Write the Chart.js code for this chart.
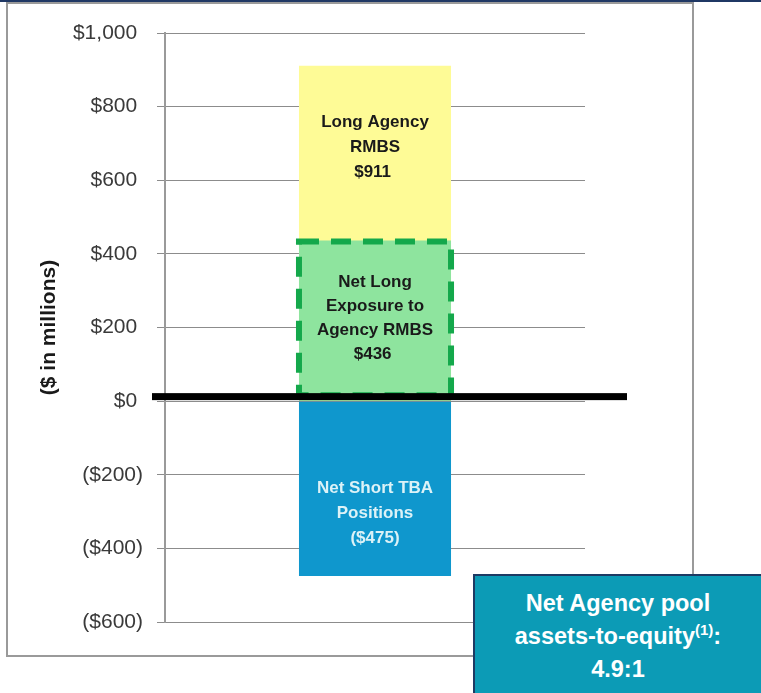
<!DOCTYPE html>
<html>
<head>
<meta charset="utf-8">
<script src="https://cdn.jsdelivr.net/npm/chart.js@4/dist/chart.umd.min.js"></script>
<style>
  body { margin: 0; background: #fff; }
  #wrap { position: relative; width: 761px; height: 693px; overflow: hidden; }
  #topLine { position: absolute; left: 0; top: 0; width: 761px; height: 2px; background: #1f3864; }
  #frame { position: absolute; left: 6px; top: 2px; width: 684px; height: 651px; border: 2px solid #9a9a9a; }
  #chartBox { position: absolute; left: 0; top: 0; width: 761px; height: 693px; }
  #ratioBox {
    position: absolute; left: 473px; top: 574px; width: 286px; height: 117px;
    background: #0c9bb6; border-top: 2px solid #1d3a63; border-left: 2px solid #1d3a63;
    color: #fff; font: bold 23.5px "Liberation Sans", Arial, sans-serif;
    text-align: center; line-height: 33px; padding-top: 11px; box-sizing: content-box;
  }
  #ratioBox sup { font-size: 15px; line-height: 0; vertical-align: 9px; }
</style>
</head>
<body>
<div id="wrap">
  <div id="topLine"></div>
  <div id="frame"></div>
  <div id="chartBox"><canvas id="exposureChart" width="761" height="693"></canvas></div>
  <div id="ratioBox">Net Agency pool<br>assets-to-equity<sup>(1)</sup>:<br>4.9:1</div>
</div>
<script>
// values in $ millions
const categories = ['Agency RMBS'];
const longAgencyRmbs = [911];
const netLongExposure = [436];
const netShortTba = [-475];
const yTickMin = -600;
const yTickMax = 1000;
const yTickStep = 200;

const money = function (v) {
    const s = Math.abs(v).toString().replace(/\B(?=(\d{3})+(?!\d))/g, ',');
    return v < 0 ? '($' + s + ')' : '$' + s + ' ';
};

// label text + small pixel nudge for each bar
const barLabels = [
    { ds: 0, lines: ['Long Agency', 'RMBS', money(longAgencyRmbs[0])], color: '#1a1a1a', lh: 25, nudge: -6 },
    { ds: 1, lines: ['Net Long', 'Exposure to', 'Agency RMBS', money(netLongExposure[0])], color: '#1a1a1a', lh: 24, nudge: -3 },
    { ds: 2, lines: ['Net Short TBA', 'Positions', money(netShortTba[0])], color: '#dcf2f7', lh: 25, nudge: 25 }
];

const overlayPlugin = {
    id: 'exposureOverlay',
    afterDatasetsDraw(chart) {
        const { ctx, scales: { y } } = chart;
        const zero = y.getPixelForValue(0);

        // dashed outline round the net long bar
        const g = chart.getDatasetMeta(1).data[0];
        ctx.save();
        ctx.strokeStyle = '#14a84b';
        ctx.lineWidth = 6;
        ctx.setLineDash([20, 12]);
        const half = g.width / 2;
        ctx.strokeRect(g.x - half, g.y + 1, g.width, zero - g.y - 7);
        ctx.restore();

        // labels in the bars
        const yTop = chart.getDatasetMeta(0).data[0].y;
        const centers = [
            (yTop + g.y) / 2,
            (g.y + zero) / 2,
            (zero + chart.getDatasetMeta(2).data[0].y) / 2
        ];
        ctx.save();
        ctx.font = 'bold 17px "Liberation Sans", Arial, sans-serif';
        ctx.textAlign = 'center';
        ctx.textBaseline = 'middle';
        barLabels.forEach(function (l, i) {
            const x = chart.getDatasetMeta(l.ds).data[0].x;
            const c = centers[i] + l.nudge;
            const start = c - (l.lines.length - 1) * l.lh / 2;
            ctx.fillStyle = l.color;
            l.lines.forEach(function (t, k) {
                ctx.fillText(t, x, start + k * l.lh);
            });
        });
        ctx.restore();

        // heavy zero line
        ctx.save();
        ctx.fillStyle = '#000';
        ctx.fillRect(152, zero - 8, 475, 7);
        ctx.restore();
    }
};

const ctx = document.getElementById('exposureChart');

new Chart(ctx, {
    type: 'bar',
    data: {
        labels: categories,
        datasets: [{
            label: 'Long Agency RMBS',
            data: longAgencyRmbs,
            backgroundColor: '#fefb96',
            order: 1
        }, {
            label: 'Net Long Exposure to Agency RMBS',
            data: netLongExposure,
            backgroundColor: '#8ee49e',
            order: 0
        }, {
            label: 'Net Short TBA Positions',
            data: netShortTba,
            backgroundColor: '#0f97cd',
            order: 2
        }]
    },
    options: {
        responsive: false,
        animation: false,
        events: [],
        layout: { padding: { left: 25, top: 33, right: 176, bottom: 71 } },
        datasets: {
            bar: {
                grouped: false,
                borderWidth: 0,
                barPercentage: 1,
                categoryPercentage: 0.362
            }
        },
        plugins: {
            legend: { display: false },
            tooltip: { enabled: false }
        },
        scales: {
            x: { display: false },
            y: {
                min: yTickMin,
                max: yTickMax,
                ticks: {
                    stepSize: yTickStep,
                    padding: 14,
                    color: '#3a3a3a',
                    font: { family: '"Liberation Sans", Arial, sans-serif', size: 21 },
                    callback: function (v) { return money(v); }
                },
                grid: { color: '#8c8c8c', lineWidth: 1, tickLength: 8 },
                border: { color: '#9a9a9a', width: 2 },
                title: {
                    display: true,
                    text: '($ in millions)',
                    color: '#1a1a1a',
                    font: { family: '"Liberation Sans", Arial, sans-serif', size: 21, weight: 'bold' },
                    padding: { top: 12, bottom: 0 }
                },
                afterFit: function (scale) { scale.width = 140; }
            }
        }
    },
    plugins: [overlayPlugin]
});
</script>
</body>
</html>
